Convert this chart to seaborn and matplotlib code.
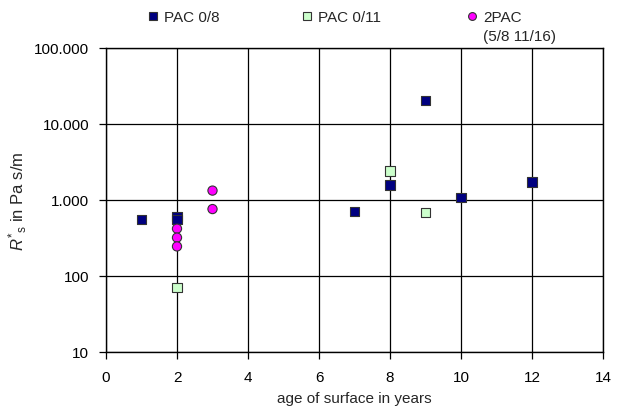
import matplotlib
matplotlib.use("Agg")
import matplotlib.pyplot as plt
import matplotlib.ticker as mticker
import seaborn as sns
import pandas as pd

# Data
pac08_age = [1, 2, 2, 7, 8, 9, 10, 12]
pac08_val = [550, 600, 550, 700, 1580, 20500, 1080, 1720]
pac011_age = [2, 8, 9]
pac011_val = [70, 2400, 690]
pac2_age = [2, 2, 2, 3, 3]
pac2_val = [420, 320, 245, 1330, 760]

series_names = ["PAC 0/8", "PAC 0/11", "2PAC\n(5/8 11/16)"]
y_ticks = [10, 100, 1000, 10000, 100000]
y_tick_labels = ["10", "100", "1.000", "10.000", "100.000"]
x_ticks = [0, 2, 4, 6, 8, 10, 12, 14]

df = pd.DataFrame({
    "age": pac08_age + pac011_age + pac2_age,
    "value": pac08_val + pac011_val + pac2_val,
    "series": [series_names[0]] * len(pac08_age)
    + [series_names[1]] * len(pac011_age)
    + [series_names[2]] * len(pac2_age),
})

sns.set_style("white")
plt.rcParams["font.family"] = ["Liberation Sans", "DejaVu Sans"]
plt.rcParams["mathtext.fontset"] = "custom"
plt.rcParams["mathtext.rm"] = "Liberation Sans"
plt.rcParams["mathtext.it"] = "Liberation Sans:italic"

FS = 11

fig = plt.figure(figsize=(6.18, 4.14), dpi=100)
ax = fig.add_axes([106 / 618, 1 - 353 / 414, (603 - 106) / 618, (353 - 49) / 414])

palette = {series_names[0]: "#000080", series_names[1]: "#CCFFCC", series_names[2]: "#FF00FF"}
markers = {series_names[0]: "s", series_names[1]: "s", series_names[2]: "o"}

sns.scatterplot(data=df, x="age", y="value", hue="series", style="series",
                palette=palette, markers=markers, s=44, edgecolor="#333333",
                linewidth=0.8, ax=ax, zorder=3, legend=True)

ax.set_yscale("log")
ax.set_ylim(10, 100000)
ax.set_xlim(0, 14)
ax.set_yticks(y_ticks)
ax.set_yticklabels(y_tick_labels)
ax.yaxis.set_minor_locator(mticker.NullLocator())
ax.set_xticks(x_ticks)

ax.grid(True, color="black", linewidth=0.9)
ax.set_axisbelow(True)
for sp in ax.spines.values():
    sp.set_visible(True)
    sp.set_color("black")
    sp.set_linewidth(1.0)

ax.tick_params(axis="both", which="major", direction="out", length=5, width=0.9,
               color="black", labelsize=FS, labelcolor="black")
ax.tick_params(axis="y", left=True, pad=7)
ax.tick_params(axis="x", bottom=True, pad=8)

ax.set_xlabel("age of surface in years", fontsize=FS, labelpad=5)
ax.set_ylabel(r"$\mathit{R}^{*}{}_{\mathrm{s}}$ in Pa s/m", fontsize=12, labelpad=4)

handles, labels = ax.get_legend_handles_labels()
ax.get_legend().remove()
x_positions = [146, 300, 465]
for h, lab, xp in zip(handles, labels, x_positions):
    leg = fig.legend([h], [lab], loc="upper left", bbox_to_anchor=(xp / 618, 1 - 11 / 414),
                     frameon=False, fontsize=FS, handletextpad=0.3, handlelength=0.9,
                     handleheight=1.0, markerscale=0.85,
                     borderaxespad=0.0, borderpad=0.0, labelspacing=0.1)
    for t in leg.get_texts():
        t.set_linespacing(1.45)
    for col in leg._legend_handle_box.get_children():
        for row in col.get_children():
            row.align = "top"

fig.savefig("out.png", dpi=100)
